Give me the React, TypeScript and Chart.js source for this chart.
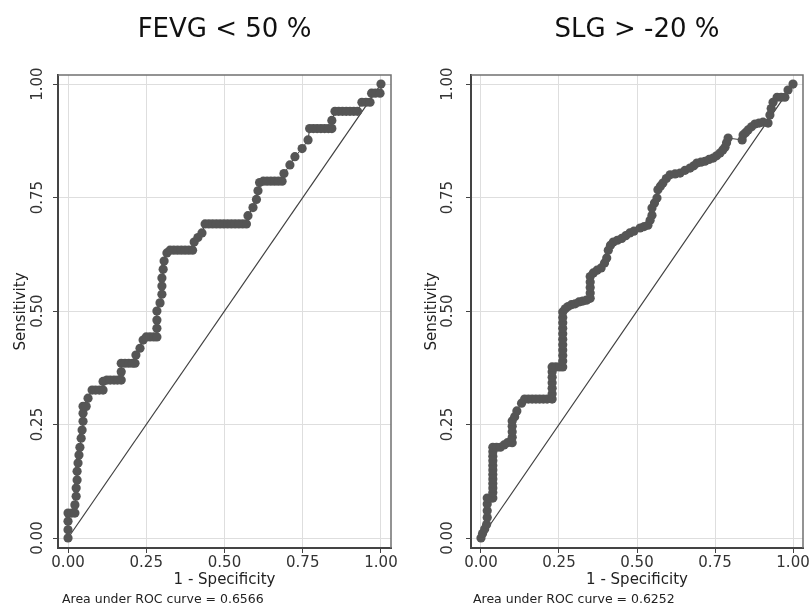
import React, { useEffect, useRef } from "react";
import { Chart, registerables } from "chart.js";

Chart.register(...registerables);

const FONT = "'DejaVu Sans', sans-serif";

const tickValues = [0, 0.25, 0.5, 0.75, 1];
const tickLabels = ["0.00", "0.25", "0.50", "0.75", "1.00"];
const xAxisTitle = "1 - Specificity";
const yAxisTitle = "Sensitivity";
const refX = [0, 1];
const refY = [0, 1];

const fevgTitle = "FEVG < 50 %";
const fevgAuc = "Area under ROC curve = 0.6566";
const fevgX = [
  0, 0, 0, 0, 0.012, 0.022, 0.022, 0.026, 0.026, 0.029, 0.029, 0.032, 0.035, 0.038, 0.042, 0.045, 0.048, 0.048, 0.048,
  0.058, 0.064, 0.077, 0.088, 0.1, 0.112, 0.112, 0.124, 0.135, 0.147, 0.158, 0.17, 0.17, 0.17, 0.182, 0.194, 0.206, 0.214,
  0.217, 0.23, 0.24, 0.25, 0.262, 0.274, 0.284, 0.284, 0.284, 0.284, 0.294, 0.3, 0.3, 0.3, 0.304, 0.307, 0.316, 0.326,
  0.338, 0.35, 0.362, 0.374, 0.386, 0.398, 0.403, 0.415, 0.428, 0.438, 0.45, 0.462, 0.474, 0.486, 0.498, 0.51, 0.522,
  0.534, 0.546, 0.558, 0.57, 0.575, 0.591, 0.602, 0.607, 0.612, 0.624, 0.636, 0.648, 0.66, 0.672, 0.684, 0.69, 0.709,
  0.725, 0.748, 0.767, 0.772, 0.784, 0.796, 0.808, 0.82, 0.832, 0.843, 0.843, 0.853, 0.865, 0.877, 0.889, 0.901, 0.913,
  0.925, 0.939, 0.952, 0.965, 0.97, 0.982, 0.997, 1,
];
const fevgY = [
  0, 0.018, 0.037, 0.055, 0.055, 0.055, 0.073, 0.092, 0.11, 0.128, 0.147, 0.165, 0.183, 0.2, 0.22, 0.238, 0.257, 0.275, 0.29,
  0.29, 0.308, 0.326, 0.326, 0.326, 0.326, 0.345, 0.348, 0.348, 0.348, 0.348, 0.348, 0.366, 0.385, 0.385, 0.385, 0.385, 0.385,
  0.403, 0.418, 0.436, 0.443, 0.443, 0.443, 0.443, 0.462, 0.48, 0.5, 0.518, 0.537, 0.555, 0.573, 0.592, 0.61, 0.628, 0.634,
  0.634, 0.634, 0.634, 0.634, 0.634, 0.634, 0.652, 0.662, 0.672, 0.692, 0.692, 0.692, 0.692, 0.692, 0.692, 0.692, 0.692,
  0.692, 0.692, 0.692, 0.692, 0.71, 0.728, 0.746, 0.765, 0.783, 0.786, 0.786, 0.786, 0.786, 0.786, 0.786, 0.803, 0.822,
  0.84, 0.858, 0.877, 0.902, 0.902, 0.902, 0.902, 0.902, 0.902, 0.902, 0.92, 0.94, 0.94, 0.94, 0.94, 0.94, 0.94,
  0.94, 0.96, 0.96, 0.96, 0.98, 0.98, 0.98, 1,
];

const slgTitle = "SLG > -20 %";
const slgAuc = "Area under ROC curve = 0.6252";
const slgX = [
  0, 0.005, 0.012, 0.018, 0.02, 0.02, 0.02, 0.02, 0.03, 0.038, 0.038, 0.038, 0.038, 0.038, 0.038, 0.038, 0.038, 0.038,
  0.038, 0.038, 0.038, 0.05, 0.062, 0.074, 0.085, 0.1, 0.1, 0.1, 0.1, 0.1, 0.108, 0.115, 0.13, 0.14, 0.152, 0.164, 0.176,
  0.188, 0.2, 0.212, 0.228, 0.228, 0.228, 0.228, 0.228, 0.228, 0.228, 0.24, 0.252, 0.262, 0.262, 0.262, 0.262, 0.262,
  0.262, 0.262, 0.262, 0.262, 0.262, 0.262, 0.27, 0.279, 0.29, 0.302, 0.314, 0.326, 0.338, 0.35, 0.35, 0.35, 0.35, 0.35,
  0.36, 0.372, 0.385, 0.396, 0.403, 0.408, 0.415, 0.424, 0.437, 0.451, 0.464, 0.477, 0.49, 0.51, 0.523, 0.535, 0.542,
  0.548, 0.548, 0.556, 0.564, 0.567, 0.575, 0.583, 0.594, 0.606, 0.622, 0.638, 0.654, 0.67, 0.682, 0.692, 0.705, 0.718,
  0.731, 0.744, 0.755, 0.766, 0.775, 0.782, 0.787, 0.792, 0.837, 0.84, 0.848, 0.856, 0.867, 0.878, 0.891, 0.904, 0.92,
  0.926, 0.93, 0.936, 0.949, 0.962, 0.974, 0.984, 1,
];
const slgY = [
  0, 0.01, 0.02, 0.03, 0.045, 0.06, 0.075, 0.088, 0.088, 0.088, 0.1, 0.11, 0.12, 0.13, 0.14, 0.15, 0.16, 0.17, 0.18,
  0.19, 0.2, 0.2, 0.2, 0.205, 0.21, 0.21, 0.222, 0.234, 0.246, 0.258, 0.267, 0.28, 0.297, 0.306, 0.306, 0.306, 0.306,
  0.306, 0.306, 0.306, 0.306, 0.318, 0.33, 0.342, 0.354, 0.366, 0.377, 0.377, 0.377, 0.377, 0.39, 0.402, 0.414, 0.426,
  0.438, 0.45, 0.462, 0.474, 0.486, 0.498, 0.505, 0.51, 0.514, 0.516, 0.52, 0.522, 0.524, 0.528, 0.54, 0.552, 0.564, 0.576,
  0.584, 0.59, 0.595, 0.606, 0.617, 0.634, 0.645, 0.652, 0.656, 0.66, 0.666, 0.672, 0.676, 0.683, 0.686, 0.689, 0.7,
  0.711, 0.727, 0.738, 0.749, 0.767, 0.775, 0.782, 0.792, 0.8, 0.802, 0.804, 0.81, 0.815, 0.82, 0.826, 0.828, 0.83,
  0.834, 0.837, 0.842, 0.848, 0.855, 0.861, 0.871, 0.881, 0.877, 0.888, 0.893, 0.899, 0.906, 0.912, 0.914, 0.916, 0.914,
  0.932, 0.946, 0.96, 0.971, 0.971, 0.971, 0.987, 1,
];

type PanelProps = {
  title: string;
  auc: string;
  xs: number[];
  ys: number[];
  left: number;
  width: number;
  areaLeft: number;
  areaRight: number;
  tickPad: number;
  yTitlePad: number;
  footX: number;
};

function RocPanel(p: PanelProps) {
  const ref = useRef<HTMLCanvasElement | null>(null);
  useEffect(() => {
    if (!ref.current) return;
    const setTicks = (s: any) => {
      s.ticks = tickValues.map((v) => ({ value: v }));
    };
    const fmt = (v: any) => {
      const i = tickValues.indexOf(Number(v));
      return i >= 0 ? tickLabels[i] : "";
    };
    const framePlugin = {
      id: "frameAndNote",
      afterDraw(chart: any) {
        const { ctx, chartArea: a } = chart;
        ctx.save();
        ctx.strokeStyle = "#707070";
        ctx.lineWidth = 1.5;
        ctx.beginPath();
        ctx.moveTo(a.left, a.top);
        ctx.lineTo(a.right, a.top);
        ctx.lineTo(a.right, a.bottom);
        ctx.stroke();
        ctx.font = `12.5px ${FONT}`;
        ctx.fillStyle = "#222";
        ctx.textBaseline = "middle";
        ctx.textAlign = "left";
        ctx.fillText(p.auc, p.footX, chart.height - 11);
        ctx.restore();
      },
    };
    const tickFont = { family: FONT, size: 15 };
    const chart = new Chart(ref.current, {
      type: "scatter",
      data: {
        datasets: [
          {
            data: p.xs.map((x, i) => ({ x, y: p.ys[i] })),
            showLine: true,
            borderColor: "#3c3c3c",
            borderWidth: 1,
            pointRadius: 4.6,
            pointHoverRadius: 4.6,
            pointBackgroundColor: "#555555",
            pointBorderColor: "#555555",
            pointBorderWidth: 0,
          },
          {
            data: refX.map((x, i) => ({ x, y: refY[i] })),
            showLine: true,
            borderColor: "#404040",
            borderWidth: 1.2,
            pointRadius: 0,
          },
        ],
      },
      options: {
        animation: false,
        responsive: false,
        events: [],
        layout: { padding: { top: 0, left: 0, right: p.width - p.areaRight, bottom: 21 } },
        plugins: {
          legend: { display: false },
          tooltip: { enabled: false },
          title: {
            display: true,
            text: p.title,
            fullSize: false,
            color: "#111",
            font: { family: FONT, size: 26, weight: "normal", lineHeight: 1.2 },
            padding: { top: 14.4, bottom: 29.4 },
          },
        },
        scales: {
          x: {
            type: "linear",
            position: "bottom",
            min: -0.032,
            max: 1.032,
            afterBuildTicks: setTicks,
            afterFit: (s: any) => {
              s.height = 42;
            },
            ticks: { callback: fmt, font: tickFont, color: "#333", padding: 1, maxRotation: 0, autoSkip: false },
            grid: { color: "#dedede", lineWidth: 1, tickColor: "#444", tickLength: 5 },
            border: { color: "#444", width: 2 },
            title: {
              display: true,
              text: xAxisTitle,
              font: tickFont,
              color: "#222",
              padding: { top: 0, bottom: 1 },
            },
          },
          y: {
            type: "linear",
            position: "left",
            min: -0.022,
            max: 1.02,
            afterBuildTicks: setTicks,
            afterFit: (s: any) => {
              s.width = p.areaLeft;
            },
            ticks: {
              callback: fmt,
              font: tickFont,
              color: "#333",
              padding: p.tickPad,
              minRotation: 90,
              maxRotation: 90,
              crossAlign: "center",
              autoSkip: false,
            },
            grid: { color: "#dedede", lineWidth: 1, tickColor: "#444", tickLength: 5 },
            border: { color: "#444", width: 2 },
            title: {
              display: true,
              text: yAxisTitle,
              font: tickFont,
              color: "#222",
              padding: { top: p.yTitlePad, bottom: 0 },
            },
          },
        },
      },
      plugins: [framePlugin],
    } as any);
    return () => chart.destroy();
  }, []);
  return (
    <canvas
      ref={ref}
      width={p.width}
      height={611}
      style={{ position: "absolute", left: p.left, top: 0, width: p.width, height: 611 }}
    />
  );
}

export default function App() {
  return (
    <div style={{ position: "absolute", left: 0, top: 0, width: 811, height: 611, background: "#fff" }}>
      <RocPanel
        title={fevgTitle}
        auc={fevgAuc}
        xs={fevgX}
        ys={fevgY}
        left={0}
        width={405}
        areaLeft={58}
        areaRight={391}
        tickPad={-2.2}
        yTitlePad={12}
        footX={62}
      />
      <RocPanel
        title={slgTitle}
        auc={slgAuc}
        xs={slgX}
        ys={slgY}
        left={405}
        width={406}
        areaLeft={66}
        areaRight={398}
        tickPad={0.8}
        yTitlePad={18}
        footX={68}
      />
    </div>
  );
}
